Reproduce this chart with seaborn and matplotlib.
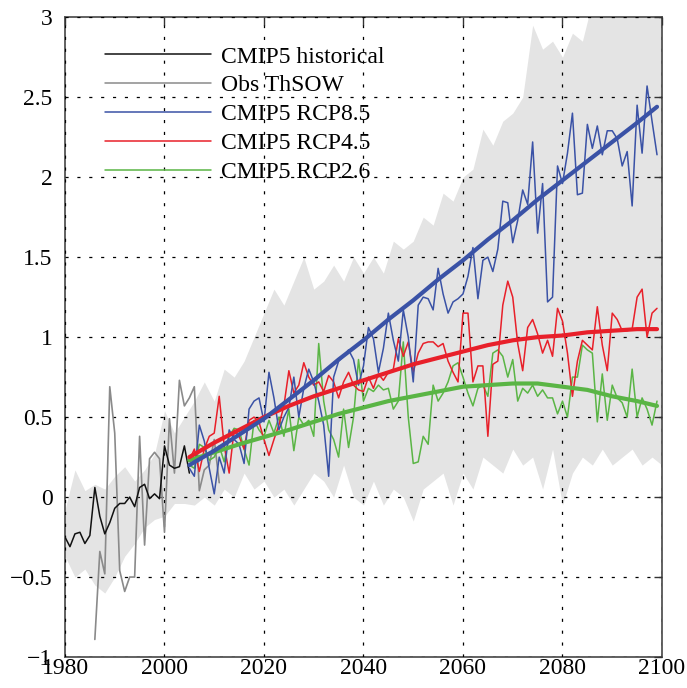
import numpy as np
import pandas as pd
import matplotlib
matplotlib.use("Agg")
import matplotlib.pyplot as plt
from matplotlib.lines import Line2D
import seaborn as sns

# ---------------- data ----------------
hist_years = list(range(1980, 2006))
hist_vals = [-0.25, -0.31, -0.23, -0.22, -0.29, -0.24, 0.06, -0.12, -0.23, -0.16,
             -0.07, -0.04, -0.04, 0.00, -0.06, 0.06, 0.08, -0.01, 0.02, -0.01,
             0.32, 0.20, 0.18, 0.19, 0.32, 0.15]

obs_years = list(range(1986, 2012))
obs_vals = [-0.89, -0.34, -0.48, 0.69, 0.40, -0.46, -0.59, -0.50, -0.50, 0.38,
            -0.30, 0.24, 0.28, 0.24, -0.22, 0.49, 0.15, 0.73, 0.57, 0.62,
            0.69, 0.04, 0.17, 0.20, 0.36, 0.09]

proj_years = list(range(2005, 2100))
rcp85_vals = [0.18, 0.13, 0.45, 0.35, 0.18, 0.02, 0.25, 0.15, 0.42, 0.36,
              0.33, 0.21, 0.55, 0.60, 0.62, 0.47, 0.78, 0.62, 0.42, 0.50,
              0.56, 0.75, 0.50, 0.68, 0.80,
              0.72, 0.60, 0.45, 0.13, 0.75, 0.85, 0.88, 0.92, 0.86, 0.70,
              0.82, 1.06, 0.99, 0.78, 0.93, 1.15, 0.98, 0.85, 1.17, 1.00,
              0.72, 1.20, 1.25,
              1.24, 1.17, 1.43, 1.27, 1.15, 1.22, 1.24, 1.27, 1.38, 1.56,
              1.24, 1.48, 1.50, 1.41, 1.55, 1.85, 1.84, 1.59, 1.73, 1.92,
              1.83, 2.22, 1.65, 1.96,
              1.22, 1.25, 2.07, 1.96, 2.15, 2.40, 1.89, 1.90, 2.33, 2.18,
              2.32, 2.14, 2.29, 2.29, 2.24, 2.07, 2.16, 1.82, 2.45, 2.15,
              2.57, 2.35, 2.14]
rcp45_vals = [0.23, 0.30, 0.16, 0.30, 0.38, 0.40, 0.63, 0.32, 0.15, 0.42,
              0.38, 0.30, 0.48, 0.50, 0.47, 0.36, 0.26, 0.36, 0.45, 0.57,
              0.79, 0.65, 0.70, 0.84, 0.75,
              0.70, 0.72, 0.66, 0.76, 0.72, 0.62, 0.72, 0.78, 0.70, 0.67,
              0.66, 0.75, 0.68, 0.77, 0.73, 0.78, 0.80, 0.99, 0.88, 0.97,
              0.78, 0.90, 0.96,
              0.97, 0.97, 0.94, 0.96, 0.85, 0.78, 0.72, 1.15, 1.15, 0.72,
              0.82, 0.82, 0.38, 0.83, 0.85, 1.20, 1.35, 1.25, 0.96, 0.79,
              1.06, 1.11, 1.02, 0.90, 0.98,
              0.88, 1.18, 1.10, 0.90, 0.63, 0.85, 0.98, 0.95, 0.92, 1.19,
              0.95, 0.79, 1.15, 1.11, 1.04, 1.04, 1.05, 1.25, 1.30, 1.00,
              1.15, 1.18]
rcp26_vals = [0.20, 0.18, 0.33, 0.31, 0.23, 0.25, 0.32, 0.22, 0.38, 0.43,
              0.42, 0.30, 0.20, 0.48, 0.42, 0.38, 0.48, 0.40, 0.50, 0.38,
              0.55, 0.29, 0.50, 0.45, 0.48,
              0.38, 0.96, 0.60, 0.42, 0.36, 0.25, 0.55, 0.31, 0.50, 0.86,
              0.60, 0.68, 0.66, 0.70, 0.67, 0.68, 0.55, 0.60,
              0.97, 0.50, 0.21, 0.22, 0.38, 0.33, 0.70, 0.60, 0.65, 0.72,
              0.82, 0.84, 0.75, 0.65, 0.57, 0.68, 0.70, 0.63, 0.90, 0.92,
              0.88, 0.75, 0.86, 0.60, 0.68, 0.65, 0.70, 0.63, 0.67, 0.62,
              0.62,
              0.52, 0.60, 0.50, 0.75, 0.75, 0.95, 0.92, 0.90, 0.47, 0.77,
              0.48, 0.70, 0.62, 0.59, 0.50, 0.80, 0.50, 0.62, 0.55, 0.45,
              0.60]

fit_years = [2005, 2010, 2015, 2020, 2025, 2030, 2035, 2040, 2045, 2050,
             2055, 2060, 2065, 2070, 2075, 2080, 2085, 2090, 2095, 2099]
fit85 = [0.20, 0.29, 0.39, 0.49, 0.61, 0.73, 0.86, 0.98, 1.11, 1.23,
         1.36, 1.48, 1.61, 1.73, 1.86, 1.98, 2.10, 2.22, 2.34, 2.44]
fit45 = [0.25, 0.34, 0.42, 0.50, 0.57, 0.63, 0.68, 0.73, 0.78, 0.83,
         0.87, 0.91, 0.95, 0.98, 1.00, 1.01, 1.03, 1.04, 1.05, 1.05]
fit26 = [0.23, 0.28, 0.33, 0.375, 0.42, 0.47, 0.52, 0.56, 0.60, 0.63,
         0.66, 0.69, 0.70, 0.71, 0.71, 0.69, 0.67, 0.63, 0.60, 0.57]

band_years = list(range(1980, 2101, 2))
band_upper = [-0.08, 0.17, 0.04, 0.08, 0.05, 0.13, 0.19, 0.10, 0.17, 0.27,
              0.54, 0.40, 0.50,
              0.60, 0.72, 0.60, 0.80, 0.75, 0.85, 1.00, 1.15, 1.30, 1.20,
              1.35, 1.50, 1.30, 1.35, 1.45, 1.35, 1.50, 1.40, 1.50, 1.40,
              1.60, 1.55, 1.60, 1.75, 1.70, 1.90, 1.85, 2.00, 2.05, 2.30,
              2.20, 2.35, 2.40, 2.50, 2.95, 2.80, 2.85, 2.75, 2.90, 2.85,
              3.10, 3.20, 3.30, 3.30, 3.30, 3.30, 3.30, 3.30]
band_lower = [-0.37, -0.50, -0.45, -0.55, -0.60, -0.50, -0.37, -0.29, -0.19, -0.14,
              -0.12, -0.04, -0.04,
              -0.05, 0.00, -0.05, 0.05, 0.00, 0.15, 0.05, 0.10, 0.00, 0.05,
              -0.05, 0.05, 0.15, 0.10, 0.00, 0.20, 0.00, -0.05, 0.10, -0.05,
              0.05, 0.00, -0.15, 0.05, 0.10, 0.15, -0.05, 0.15, 0.05, 0.25,
              0.20, 0.15, 0.30, 0.20, 0.25, 0.05, 0.30, -0.05, 0.15, 0.25,
              0.20, 0.30, 0.20, 0.25, 0.30, 0.20, 0.25, 0.20]

legend_labels = ["CMIP5 historical", "Obs ThSOW", "CMIP5 RCP8.5",
                 "CMIP5 RCP4.5", "CMIP5 RCP2.6"]
x_ticks = [1980, 2000, 2020, 2040, 2060, 2080, 2100]
y_ticks = [-1, -0.5, 0, 0.5, 1, 1.5, 2, 2.5, 3]

# ---------------- style ----------------
sns.set_style("white")
plt.rcParams["font.family"] = ["Liberation Serif", "DejaVu Serif"]
plt.rcParams["axes.unicode_minus"] = True

c_blue = "#3a52a6"
c_red = "#e8202a"
c_green = "#5ab545"
c_black = "#111111"
c_gray = "#8a8a8a"

fig = plt.figure(figsize=(6.87, 6.88), dpi=100)
ax = fig.add_axes([0.0946, 0.045, 0.869, 0.930])

ax.fill_between(band_years, band_lower, band_upper, color="#e4e4e4",
                linewidth=0, zorder=0.5)

ax.set_axisbelow(False)
ax.grid(True, color="black", linestyle=(0, (2.5, 7)), linewidth=0.9)

df_hist = pd.DataFrame({"year": hist_years, "val": hist_vals})
df_obs = pd.DataFrame({"year": obs_years, "val": obs_vals})
df_proj = pd.DataFrame({"year": proj_years, "r85": rcp85_vals,
                        "r45": rcp45_vals, "r26": rcp26_vals})
df_fit = pd.DataFrame({"year": fit_years, "f85": fit85, "f45": fit45,
                       "f26": fit26})

sns.lineplot(data=df_obs, x="year", y="val", ax=ax, color=c_gray,
             linewidth=1.2, zorder=3)
sns.lineplot(data=df_hist, x="year", y="val", ax=ax, color=c_black,
             linewidth=1.1, zorder=4)
sns.lineplot(data=df_proj, x="year", y="r26", ax=ax, color=c_green,
             linewidth=1.1, zorder=4)
sns.lineplot(data=df_proj, x="year", y="r45", ax=ax, color=c_red,
             linewidth=1.1, zorder=4)
sns.lineplot(data=df_proj, x="year", y="r85", ax=ax, color=c_blue,
             linewidth=1.1, zorder=4)
sns.lineplot(data=df_fit, x="year", y="f26", ax=ax, color=c_green,
             linewidth=3.0, zorder=5)
sns.lineplot(data=df_fit, x="year", y="f45", ax=ax, color=c_red,
             linewidth=3.0, zorder=5)
sns.lineplot(data=df_fit, x="year", y="f85", ax=ax, color=c_blue,
             linewidth=3.0, zorder=5)

ax.set_xlim(1980, 2100)
ax.set_ylim(-1, 3)
ax.set_xticks(x_ticks)
ax.set_yticks(y_ticks)
ax.set_yticklabels([f"{v:g}".replace("-", "\u2212") for v in y_ticks])
ax.set_xlabel("")
ax.set_ylabel("")
ax.tick_params(axis="both", direction="in", length=6, width=1.0,
               labelsize=17, colors="#333333", labelcolor="black",
               top=True, right=True)
ax.tick_params(axis="y", pad=9)
ax.tick_params(axis="x", pad=1)
for s in ax.spines.values():
    s.set_color("#555555")
    s.set_linewidth(1.3)
    s.set_visible(True)

handles = [Line2D([], [], color=c_black, lw=1.1),
           Line2D([], [], color=c_gray, lw=1.1),
           Line2D([], [], color=c_blue, lw=1.1),
           Line2D([], [], color=c_red, lw=1.1),
           Line2D([], [], color=c_green, lw=1.1)]
leg = ax.legend(handles, legend_labels, loc="upper left",
                bbox_to_anchor=(0.067, 0.955), frameon=False, fontsize=17,
                handlelength=4.5, handletextpad=0.42, labelspacing=0.31,
                borderaxespad=0, borderpad=0)
for t in leg.get_texts():
    t.set_color("black")

fig.savefig("out.png", dpi=100)
